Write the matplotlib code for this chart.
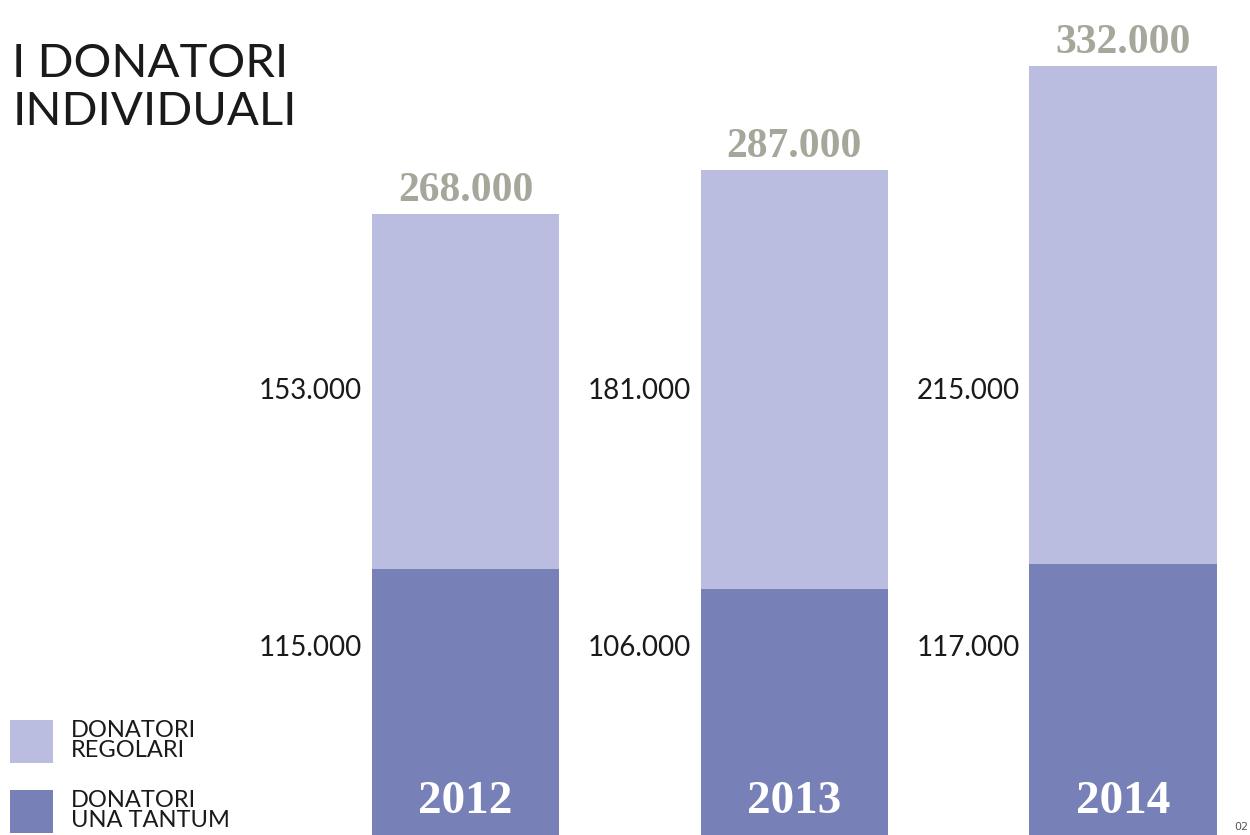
import matplotlib
matplotlib.use("Agg")
import matplotlib.pyplot as plt
from matplotlib.patches import Patch

# dati
anni = ["2012", "2013", "2014"]
una_tantum = [115000, 106000, 117000]
regolari = [153000, 181000, 215000]
totali = [268000, 287000, 332000]

col_regolari = "#babde0"
col_una_tantum = "#7880b8"
col_totale = "#a6a69a"


def fmt(v):
    return f"{v:,}".replace(",", ".")


fig = plt.figure(figsize=(12.5, 8.35), dpi=100)
ax = fig.add_axes([0, 0, 1, 1])
ax.set_axis_off()

x = list(range(len(anni)))
w = 0.57
ax.bar(x, una_tantum, width=w, color=col_una_tantum, linewidth=0)
ax.bar(x, regolari, width=w, bottom=una_tantum, color=col_regolari, linewidth=0)
ax.set_xlim(-1.416, 2.386)
ax.set_ylim(0, 360400)

tr = ax.get_xaxis_transform()
for i, anno in enumerate(anni):
    # totale sopra la barra
    ax.annotate(fmt(totali[i]), xy=(x[i], totali[i]), xytext=(0, 9.5),
                textcoords="offset points", ha="center", va="baseline",
                fontsize=30, fontweight="bold", family="Liberation Serif",
                color=col_totale)
    # valori a sinistra della barra
    ax.annotate(fmt(regolari[i]), xy=(x[i] - w / 2, 0.532), xycoords=tr,
                xytext=(-7, 0), textcoords="offset points", ha="right",
                va="center", fontsize=20, family="Lato", color="#1a1a1a")
    ax.annotate(fmt(una_tantum[i]), xy=(x[i] - w / 2, 0.224), xycoords=tr,
                xytext=(-7, 0), textcoords="offset points", ha="right",
                va="center", fontsize=20, family="Lato", color="#1a1a1a")
    # anno in fondo
    ax.text(x[i], 0.040, anno, transform=tr, ha="center", va="center",
            fontsize=34, fontweight="bold", family="Liberation Serif",
            color="white")

# titolo
fig.text(0.01, 0.9078, "I DONATORI", fontsize=34, family="Lato",
         color="#1a1a1a", va="baseline")
fig.text(0.01, 0.850, "INDIVIDUALI", fontsize=34, family="Lato",
         color="#1a1a1a", va="baseline")

# legenda (spostata appena in su per non tagliare l'ultima riga)
handles = [Patch(color=col_regolari, linewidth=0),
           Patch(color=col_una_tantum, linewidth=0)]
labels = ["DONATORI\nREGOLARI", "DONATORI\nUNA TANTUM"]
leg = fig.legend(handles, labels, loc="upper left",
                 bbox_to_anchor=(0.008, 0.138), frameon=False,
                 handlelength=1.83, handleheight=2.44,
                 handletextpad=0.75, labelspacing=1.12, borderpad=0,
                 borderaxespad=0, prop={"family": "Lato", "size": 17})
for t in leg.get_texts():
    t.set_linespacing(0.95)
    t.set_color("#1a1a1a")

fig.text(0.9985, 0.003, "02", fontsize=8, color="#555555",
         ha="right", va="bottom")

fig.savefig("out.png", dpi=100)
